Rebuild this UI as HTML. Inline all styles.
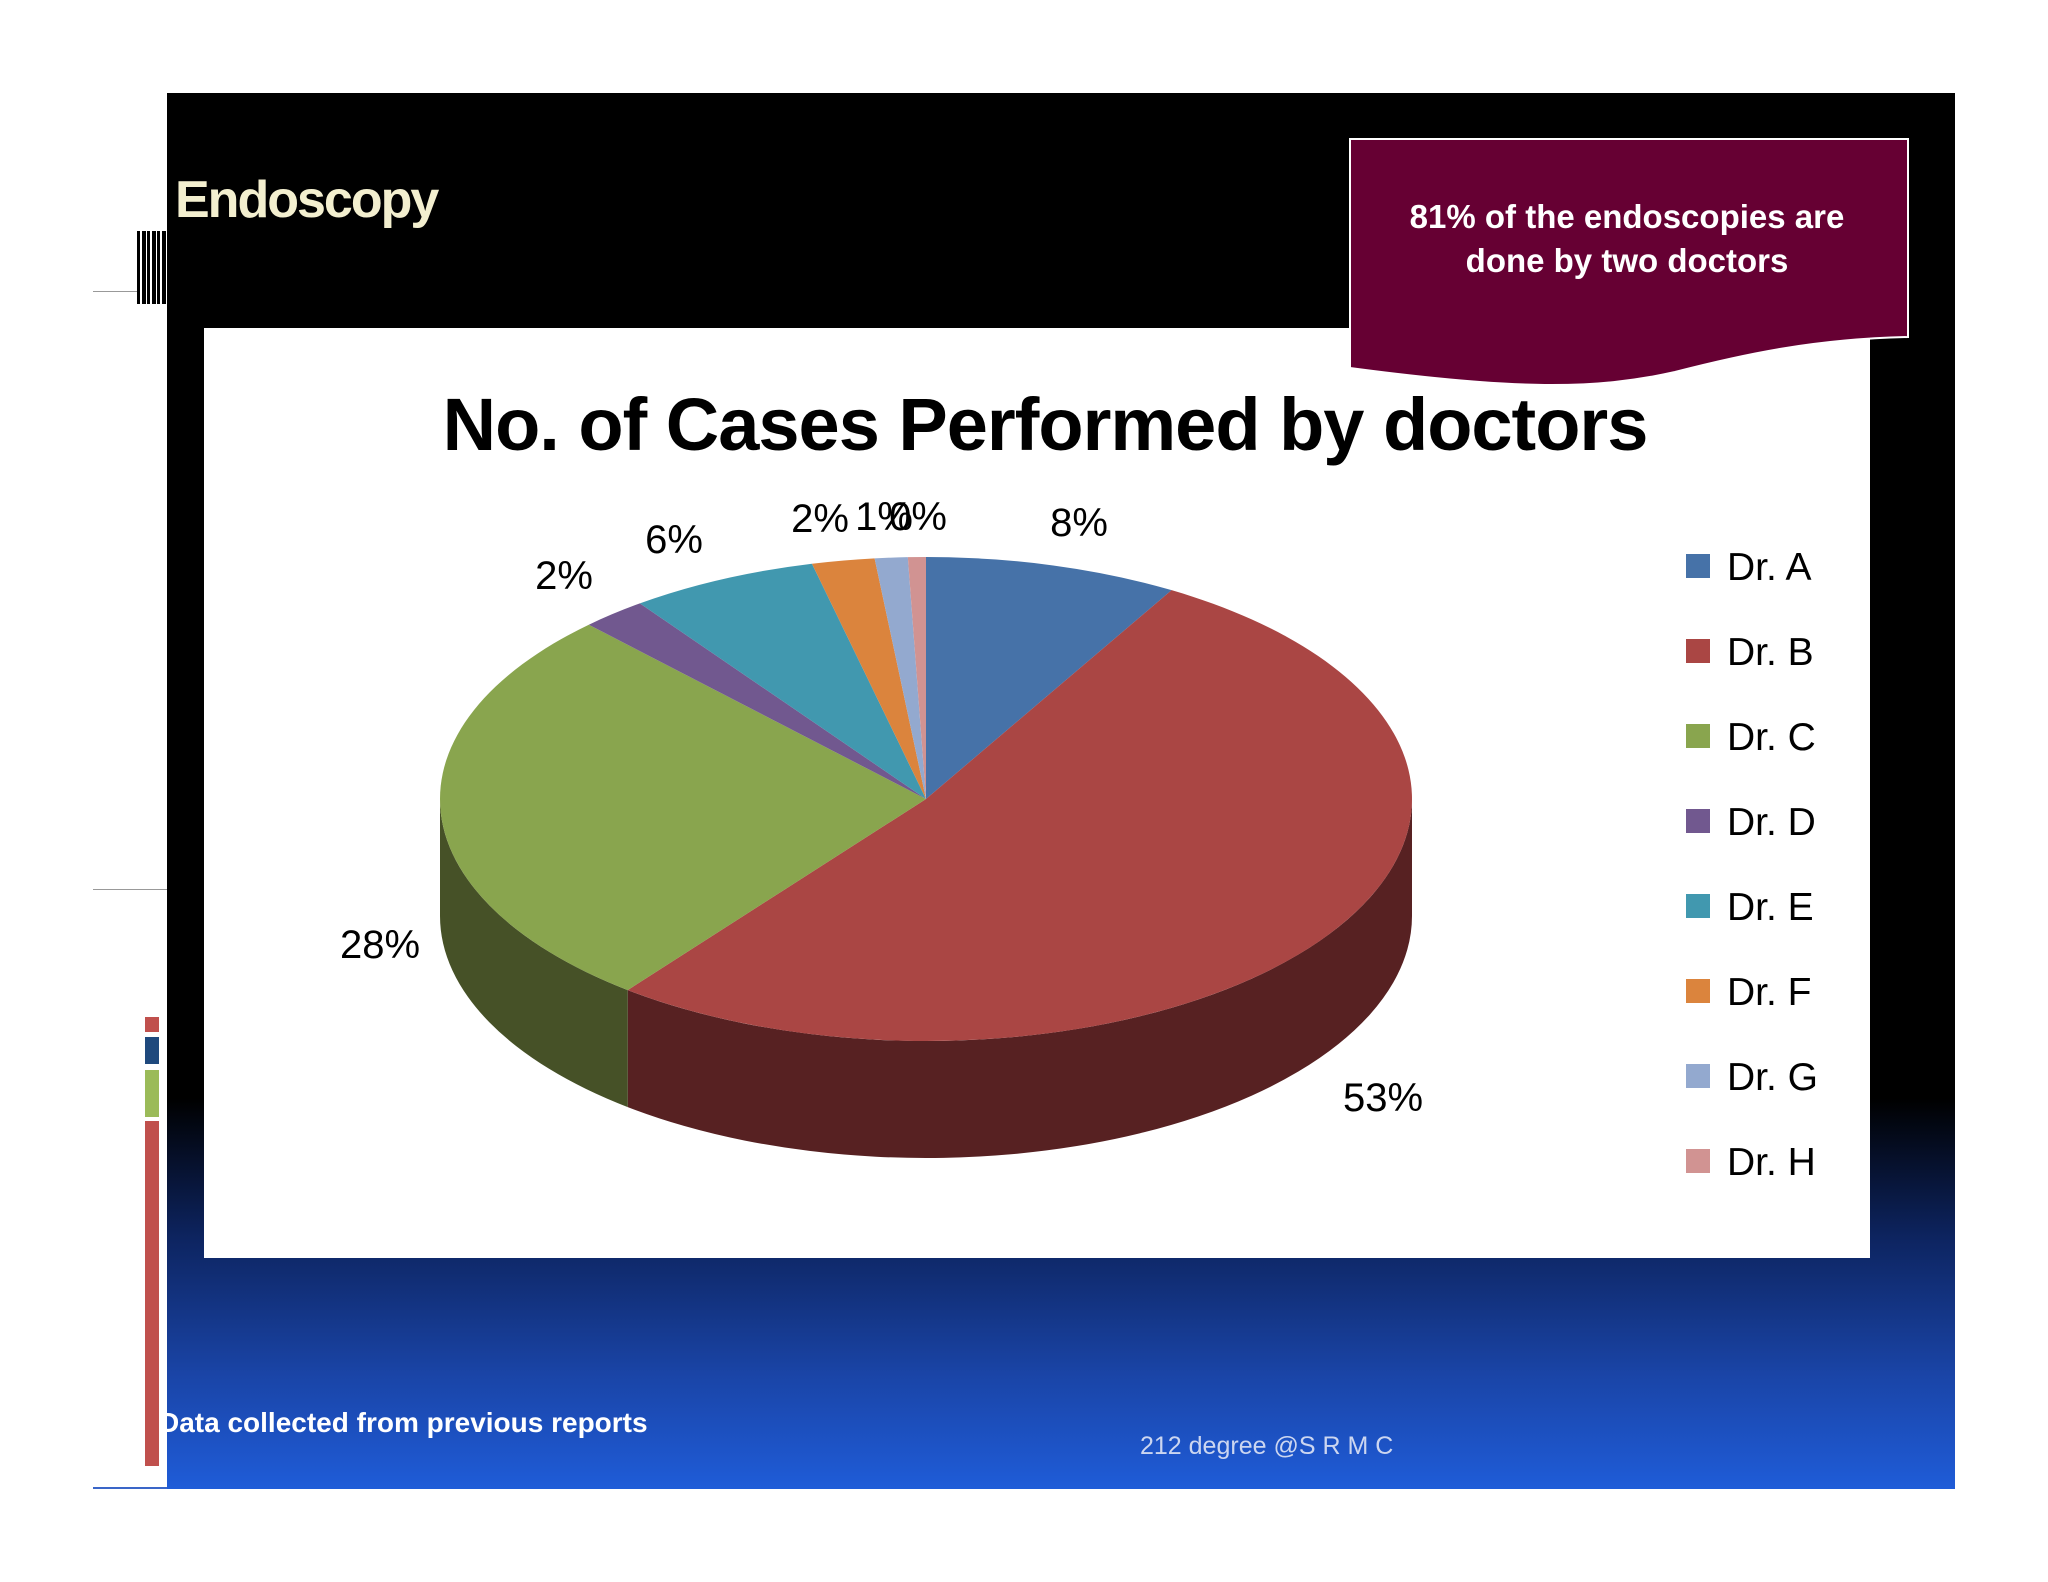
<!DOCTYPE html>
<html><head><meta charset="utf-8"><style>
body{margin:0;width:2048px;height:1582px;background:#fff;overflow:hidden;position:relative;font-family:"Liberation Sans",sans-serif}
.abs{position:absolute}
</style></head><body>
<div class="abs" style="left:167px;top:93px;width:1788px;height:1396px;background:linear-gradient(to bottom,#000 0%,#000 72%,#0d2460 82%,#1a45a8 92%,#1f5cd8 100%)"></div>
<div class="abs" style="left:93px;top:291px;width:74px;height:1px;background:#999"></div>
<div class="abs" style="left:93px;top:889px;width:74px;height:1px;background:#999"></div>
<div class="abs" style="left:93px;top:1487px;width:74px;height:2px;background:#3a66c8"></div>
<div class="abs" style="left:137px;top:231px;width:30px;height:73px;background:repeating-linear-gradient(to right,#000 0 3px,#fff 3px 5px,#000 5px 9px,#fff 9px 10px)"></div>
<div class="abs" style="left:145px;top:1017px;width:14px;height:15px;background:#c0504d"></div>
<div class="abs" style="left:145px;top:1037px;width:14px;height:27px;background:#1f497d"></div>
<div class="abs" style="left:145px;top:1070px;width:14px;height:47px;background:#9bbb59"></div>
<div class="abs" style="left:145px;top:1121px;width:14px;height:345px;background:#c0504d"></div>
<div class="abs" style="left:175px;top:170px;font-size:52px;font-weight:bold;color:#f3efcf;letter-spacing:-2px">Endoscopy</div>
<div class="abs" style="left:204px;top:328px;width:1666px;height:930px;background:#fff"></div>
<svg class="abs" style="left:1345px;top:134px" width="570" height="260">
<path d="M5 5 H563 V203 C470 205 400 220 330 238 C250 256 170 256 5 234 Z" fill="#660033" stroke="#fff" stroke-width="2"/>
<text x="282" y="94" text-anchor="middle" fill="#fff" font-size="33" font-weight="bold" font-family="Liberation Sans,sans-serif">81% of the endoscopies are</text>
<text x="282" y="138" text-anchor="middle" fill="#fff" font-size="33" font-weight="bold" font-family="Liberation Sans,sans-serif">done by two doctors</text>
</svg>
<div class="abs" style="left:204px;width:1666px;top:382px;text-align:center;font-size:74px;font-weight:bold;color:#000;padding-left:8px;letter-spacing:-1px">No. of Cases Performed by doctors</div>
<svg class="abs" id="pie" style="left:0;top:0" width="2048" height="1582"></svg>
<div class="abs" style="left:159px;top:1407px;font-size:28px;font-weight:bold;color:#fff">Data collected from previous reports</div>
<div class="abs" style="left:1140px;top:1432px;font-size:25px;color:#ccd6f0">212 degree @S R M C</div>
<script>
const categories=["Dr. A","Dr. B","Dr. C","Dr. D","Dr. E","Dr. F","Dr. G","Dr. H"];
const values=[8.5,52.5,27.5,2.2,6.3,2.1,1.1,0.6];
const labels=["8%","53%","28%","2%","6%","2%","1%","0%"];
const colors=["#4672a8","#aa4644","#89a54e","#71588f","#4198af","#db843d","#93a9cf","#d19392"];
const sideColors=["#2d4a6e","#572122","#465127","#3f3050","#25596a","#7d4a20","#5a6a85","#805a5a"];
const svg=document.getElementById('pie');const NS="http://www.w3.org/2000/svg";
const cx=926,cy=799,rx=486,ry=242,depth=117;
const total=values.reduce((a,b)=>a+b,0);
function pt(t,dy){return [cx+rx*Math.cos(t),cy+ry*Math.sin(t)+(dy||0)];}
function mk(tag,attrs){const e=document.createElementNS(NS,tag);for(const k in attrs)e.setAttribute(k,attrs[k]);svg.appendChild(e);return e;}
let angles=[];let a=-Math.PI/2;
values.forEach(v=>{const b=a+v/total*2*Math.PI;angles.push([a,b]);a=b;});
// side walls
angles.forEach(([s,e],i)=>{
  // visible front: angles in [0,PI] mod 2PI
  for(let k=-1;k<=1;k++){
    const lo=Math.max(s,k*2*Math.PI),hi=Math.min(e,k*2*Math.PI+Math.PI);
    if(hi>lo){
      const p1=pt(lo),p2=pt(hi),p3=pt(hi,depth),p4=pt(lo,depth);
      const p=mk('path',{d:`M${p1} A${rx} ${ry} 0 0 1 ${p2} L${p3} A${rx} ${ry} 0 0 0 ${p4} Z`,fill:sideColors[i]});
      
      
    }
  }
});
angles.forEach(([s,e],i)=>{
  const p1=pt(s),p2=pt(e);const large=(e-s)>Math.PI?1:0;
  const p=mk('path',{d:`M${cx},${cy} L${p1} A${rx} ${ry} 0 ${large} 1 ${p2} Z`,fill:colors[i]});
  
  
});
// data labels
const labelPos=[[1079,522],[1383,1097],[380,944],[564,575],[674,539],[820,518],[884,516],[918,516]];
labels.forEach((t,i)=>{
  const el=mk('text',{x:labelPos[i][0],y:labelPos[i][1]+14,'text-anchor':'middle','font-size':40,'font-family':'Liberation Sans,sans-serif',fill:'#000'});
  el.textContent=t;
  
  
});
// legend
categories.forEach((c,i)=>{
  const y=566+i*85;
  const r=mk('rect',{x:1686,y:y-12,width:24,height:24,fill:colors[i]});
  
  
  const t=mk('text',{x:1727,y:y+14,'font-size':39,'font-family':'Liberation Sans,sans-serif',fill:'#000'});
  t.textContent=c;
  
  
});
</script>
</body></html>
